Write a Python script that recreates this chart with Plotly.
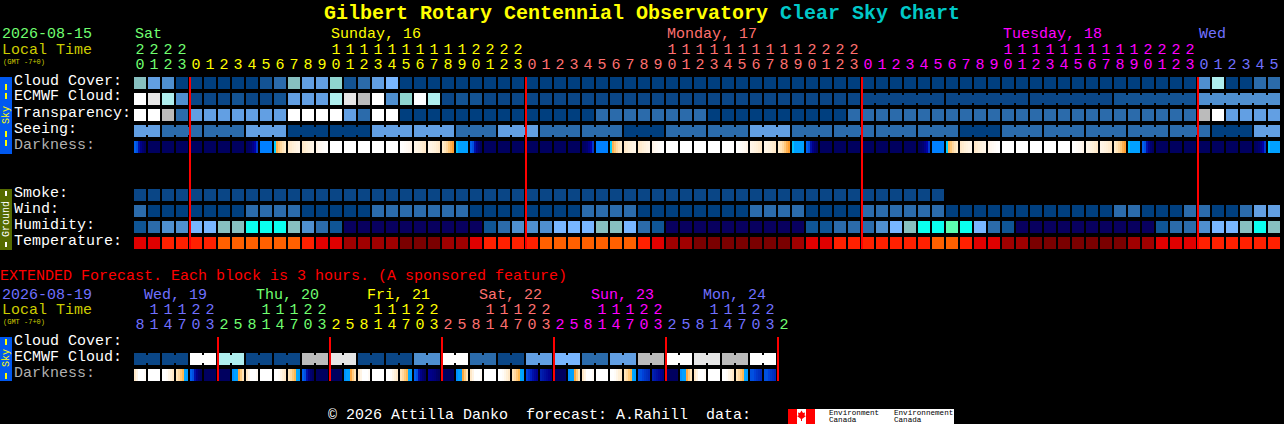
import plotly.graph_objects as go

# ---------- palette for the forecast levels ----------
LEVEL_COLORS = ['#003F7F', '#135393', '#2B6BAB', '#4F8FCF', '#629FE3', '#78B6FF', '#87C0C0', '#AFEEEE',
                '#FFFFFF', '#E6E6E6', '#BBBBBB', '#0A4686', '#0F5595', '#08005F', '#0AFFEF', '#5CFFB0',
                '#E00000', '#FF2000', '#FF6000', '#A00000', '#7A0000', '#8FD5CF']

# ---------- main chart data (one value per hour column) ----------
cloud_cover = [6, 4, 3, 0, 0, 0, 0, 0, 0, 1, 2, 6, 4, 4, 21, 1, 2, 4, 5, 0, 0] + [0] * 55 + [3, 7, 0, 0, 2, 2]
ecmwf_cloud = [8, 9, 7, 3, 11, 11, 11, 1, 11, 11, 1, 4, 4, 4, 7, 9, 10, 8, 3, 21, 8, 7, 11, 1, 1] + [11] * 27 \
    + [11] * 18 + [1] * 6 + [3] * 6
transparency = [8, 8, 10, 2, 4, 4, 4, 4, 4, 4, 4, 8, 8, 8, 8, 4, 2, 8, 8, 0, 0] + [0] * 12 + [2] * 8 + [0] * 10 \
    + [2] * 25 + [10, 8, 4, 4, 4, 4]
seeing_group_sizes = [2] + [3] * 26 + [2]
seeing_group_levels = [4, 2, 2, 4, 0, 0, 4, 4, 2, 4, 2, 2, 0, 2, 2, 4, 2, 2, 2, 2, 0, 2, 2, 2, 2, 2, 0, 4]
ecmwf_group_first_col = 52
ecmwf_group_size = 6
darkness_cells = ['e'] + ['n'] * 7 + ['d', 'B', 's', 'c', 'c', 'l', 'w', 'w', 'w', 'w', 'w', 'm', 'h', 'h', 'r', 'C', 'e'] \
    + ['n'] * 7 + ['d', 'B', 's', 'c', 'c', 'l', 'w', 'w', 'w', 'w', 'w', 'm', 'h', 'h', 'r', 'C', 'e'] \
    + ['n'] * 7 + ['d', 'B', 's', 'c', 'c', 'l', 'w', 'w', 'w', 'w', 'w', 'm', 'h', 'h', 'r', 'C', 'e'] \
    + ['n'] * 7 + ['d', 'C']
smoke = [11] * 58 + [None] * 24
wind = [2, 0, 0, 0, 0, 0, 0, 0, 2, 2, 2, 2, 0, 0, 0, 0, 0, 2, 2, 2, 2, 2, 2, 2] + [0] * 8 + [2] * 4 + [0] * 8 \
    + [2] * 4 + [0] * 4 + [2] * 6 + [0] * 12 + [2, 2, 0, 0, 0, 2, 2, 0, 0, 2, 4, 4]
humidity = [12, 2, 3, 3, 5, 5, 6, 6, 14, 14, 14, 6, 3, 2, 12] + [13] * 10 \
    + [12, 2, 3, 3, 3, 5, 5, 5, 6, 6, 5, 2, 12] + [13] * 10 \
    + [12, 12, 2, 2, 2, 3, 5, 6, 14, 14, 15, 14, 5, 2, 12] + [13] * 10 \
    + [12, 2, 2, 3, 5, 5, 6, 14, 6]
temperature = [16, 16, 17, 17, 17, 17, 18, 18, 18, 18, 18, 18, 17, 16, 16, 19, 19, 19, 19, 20, 20, 20, 19, 19,
               16, 17, 17, 17, 17, 18, 18, 18, 18, 18, 18, 18, 17, 16, 19, 19, 20, 20, 20, 20, 20, 20, 20, 19,
               16, 16, 17, 17, 17, 17, 17, 17, 17, 18, 18, 17, 16, 16, 19, 19, 20, 20, 20, 20, 20, 20, 20, 19,
               19, 16, 16, 16, 17, 17, 17, 17, 17, 17]

hours_main = [20, 21, 22, 23] + list(range(24)) * 3 + [0, 1, 2, 3, 4, 5]
midnight_cols = [4, 28, 52, 76]

# ---------- extended chart data (one value per 3 h column) ----------
ext_ecmwf_groups = [11, 11, 8, 7, 11, 11, 10, 9, 11, 11, 3, 8, 2, 11, 4, 5, 2, 4, 10, 8, 9, 10, 8]
ext_darkness_cells = ['A', 'w', 'k', 'R', 'e', 'n', 'n', 'S', 'A', 'w', 'k', 'R', 'e', 'n', 'n', 'S', 'A', 'w', 'k', 'R',
                      'e', 'N', 'n', 'S', 'A', 'w', 'k', 'R', 'E', 'M', 'n', 'S', 'A', 'w', 'k', 'R', 'G', 'M', 'n', 'S',
                      'A', 'w', 'k', 'R', 'G', 'G']
hours_ext = [8, 11, 14, 17, 20, 23] + [2, 5, 8, 11, 14, 17, 20, 23] * 5 + [2]
ext_midnight_cols = [6, 14, 22, 30, 38, 46]

# ---------- darkness gradients: six 2 px samples across a block ----------
DARK_PATTERNS = {
    'n': ['#00005F'] * 6,
    'd': ['#000060', '#000066', '#000070', '#000088', '#0000A8', '#0038D0'],
    'B': ['#0080FF'] * 6,
    'C': ['#00C0FF', '#00A0FF', '#00A0FF', '#00A0FF', '#00A0FF', '#00A0FF'],
    's': ['#00D0FF', '#FFB050', '#FFC878', '#FFD8A0', '#FFE4B8', '#FFECCC'],
    'c': ['#FFE8C8', '#FFECD0', '#FFF0D8', '#FFF2DE', '#FFF4E4', '#FFF6E8'],
    'l': ['#FFF4E8', '#FFF8F0', '#FFFAF4', '#FFFCF8', '#FFFEFC', '#FFFFFF'],
    'w': ['#FFFFFF'] * 6,
    'm': ['#FFFFFF', '#FFFEFC', '#FFFCF8', '#FFFAF4', '#FFF8F0', '#FFF4E8'],
    'h': ['#FFF6E8', '#FFF4E4', '#FFF2DE', '#FFF0D8', '#FFECD0', '#FFE8C8'],
    'r': ['#FFECCC', '#FFE4B8', '#FFD8A0', '#FFC878', '#FFB050', '#FFA030'],
    'e': ['#0060F0', '#0050E0', '#0010A8', '#000088', '#000070', '#000060'],
    'A': ['#FFE8C8', '#FFF4E4', '#FFFFFF', '#FFFFFF', '#FFFFFF', '#FFFAF4'],
    'k': ['#FFFFFF', '#FFFFFF', '#FFFCF8', '#FFF6E8', '#FFF0D8', '#FFE8C8'],
    'R': ['#FFE4B8', '#FFD8A0', '#FFC878', '#FFB850', '#00A8FF', '#00A0FF'],
    'S': ['#0090FF', '#00A0FF', '#00A0FF', '#FFA840', '#FFCC80', '#FFE4B8'],
    'E': ['#0040E0', '#0030D0', '#0020C0', '#0010A8', '#000898', '#000090'],
    'G': ['#0050E0', '#0050E0', '#0040D8', '#0038C8', '#0030C0', '#0028B8'],
    'M': ['#0020B0', '#0018A8', '#0010A0', '#000898', '#000090', '#000080'],
    'N': ['#000090', '#000088', '#000080', '#000078', '#000068', '#000060'],
}

# ---------- text colours ----------
GREEN, YELLOW, SALMON, MAGENTA, PERI = '#70FF70', '#FFFF00', '#FF7070', '#FF00FF', '#7070FF'
W, H = 1284, 424
COL_PX, ROW_PX = 14, 16
X0_PX, Y0_PX = 140, 83
MONO = 'Liberation Mono'


def col_at(px):
    return (px - X0_PX) / COL_PX


def row_at(py):
    return (py - Y0_PX) / ROW_PX


# ---------- build derived series ----------
seeing = []
seeing_spans = []
for size, level in zip(seeing_group_sizes, seeing_group_levels):
    seeing_spans.append((len(seeing), len(seeing) + size - 1, level))
    seeing += [level] * size

ext_ecmwf = []
ext_spans = []
for g, level in enumerate(ext_ecmwf_groups):
    ext_spans.append((2 * g, 2 * g + 1, level))
    ext_ecmwf += [level] * 2

ecmwf_spans = []
for start in range(ecmwf_group_first_col, 82, ecmwf_group_size):
    ecmwf_spans.append((start, start + ecmwf_group_size - 1, ecmwf_cloud[start]))

n_lv = len(LEVEL_COLORS)
level_scale = []
for i, c in enumerate(LEVEL_COLORS):
    level_scale += [[i / n_lv, c], [(i + 1) / n_lv, c]]

dark_colors = sorted({c for p in DARK_PATTERNS.values() for c in p})
dark_index = {c: i for i, c in enumerate(dark_colors)}
n_dk = len(dark_colors)
dark_scale = []
for i, c in enumerate(dark_colors):
    dark_scale += [[i / n_dk, c], [(i + 1) / n_dk, c]]

fig = go.Figure()


def level_heat(rows, ys, ncols):
    fig.add_trace(go.Heatmap(
        z=rows, x=list(range(ncols)), y=ys, zmin=0, zmax=n_lv,
        colorscale=level_scale, showscale=False, xgap=2, ygap=4, hoverinfo='skip'))


def dark_heat(cells, y):
    xs, zs = [], []
    for c, key in enumerate(cells):
        for k, col in enumerate(DARK_PATTERNS[key]):
            xs.append(c + (2 * k - 5) / COL_PX)
            zs.append(dark_index[col] + 0.5)
        xs.append(c + 7 / COL_PX)
        zs.append(None)
    fig.add_trace(go.Heatmap(
        z=[zs], x=xs, y=[y], zmin=0, zmax=n_dk, colorscale=dark_scale,
        showscale=False, ygap=4, hoverinfo='skip'))


def levels(seq):
    return [None if v is None else v + 0.5 for v in seq]


blank = [None] * 82
level_heat([levels(cloud_cover), levels(ecmwf_cloud), levels(transparency), levels(seeing), blank, blank, blank,
            levels(smoke), levels(wind), levels(humidity), levels(temperature)],
           list(range(11)), 82)
dark_heat(darkness_cells, 4)
level_heat([levels(ext_ecmwf)], [row_at(359)], 46)
dark_heat(ext_darkness_cells, row_at(375))


def bridges(spans, y):
    by_level = {}
    for a, b, level in spans:
        if b > a:
            xs, ys = by_level.setdefault(level, ([], []))
            xs += [a, b, None]
            ys += [y, y, None]
    for level, (xs, ys) in by_level.items():
        fig.add_trace(go.Scatter(x=xs, y=ys, mode='lines', line=dict(color=LEVEL_COLORS[level], width=8),
                                 hoverinfo='skip', showlegend=False))


bridges(seeing_spans, 3)
bridges(ecmwf_spans, 1)
bridges(ext_spans, row_at(359))


def red_lines(cols, y0, y1):
    xs, ys = [], []
    for c in cols:
        xs += [c - 3 / 7, c - 3 / 7, None]
        ys += [y0, y1, None]
    fig.add_trace(go.Scatter(x=xs, y=ys, mode='lines', line=dict(color='#FF0000', width=2),
                             hoverinfo='skip', showlegend=False))


red_lines(midnight_cols, row_at(77), row_at(249))
red_lines(ext_midnight_cols, row_at(337), row_at(381))


def hour_text(hours, colors, py_tens, py_units):
    cols = list(range(len(hours)))
    fig.add_trace(go.Scatter(
        x=[c for c in cols if hours[c] >= 10], y=[row_at(py_tens)] * sum(h >= 10 for h in hours),
        text=[str(h // 10) for h in hours if h >= 10], mode='text',
        textfont=dict(family=MONO, size=15, color=[colors[c] for c in cols if hours[c] >= 10]),
        hoverinfo='skip', showlegend=False))
    fig.add_trace(go.Scatter(
        x=cols, y=[row_at(py_units)] * len(cols), text=[str(h % 10) for h in hours], mode='text',
        textfont=dict(family=MONO, size=15, color=colors), hoverinfo='skip', showlegend=False))


hour_text(hours_main, [GREEN] * 4 + [YELLOW] * 24 + [SALMON] * 24 + [MAGENTA] * 24 + [PERI] * 6, 50, 65)
hour_text(hours_ext, [PERI] * 6 + [GREEN] * 8 + [YELLOW] * 8 + [SALMON] * 8 + [MAGENTA] * 8 + [PERI] * 8 + [GREEN],
          310, 325)

annotations = []


def label(txt, x, y, color='#FFFFFF', size=15, bold=False, angle=0, anchor='left', family=MONO):
    annotations.append(dict(
        text=f'<b>{txt}</b>' if bold else txt, x=x / W, y=1 - y / H, xref='paper', yref='paper',
        xanchor=anchor, yanchor='middle', showarrow=False, borderpad=0, borderwidth=0,
        textangle=angle, font=dict(family=family, size=size, color=color)))


# title
label('Gilbert Rotary Centennial Observatory', 324, 13, YELLOW, 20, True)
label('Clear Sky Chart', 780, 13, '#00C8C8', 20, True)

# main header
label('2026-08-15', 2, 35, GREEN)
label('Local Time', 2, 50, '#CCCC00')
label('(GMT -7+0)', 3, 62, '#CCCC00', 7)
for txt, x, c in [('Sat', 135, GREEN), ('Sunday, 16', 331, YELLOW), ('Monday, 17', 667, SALMON),
                  ('Tuesday, 18', 1003, MAGENTA), ('Wed', 1199, PERI)]:
    label(txt, x, 35, c)

# row names
for txt, y, c in [('Cloud Cover:', 81, '#FFFFFF'), ('ECMWF Cloud:', 97, '#FFFFFF'), ('Transparency:', 113, '#FFFFFF'),
                  ('Seeing:', 129, '#FFFFFF'), ('Darkness:', 145, '#B0B0B0'), ('Smoke:', 193, '#FFFFFF'),
                  ('Wind:', 209, '#FFFFFF'), ('Humidity:', 225, '#FFFFFF'), ('Temperature:', 241, '#FFFFFF'),
                  ('Cloud Cover:', 341, '#FFFFFF'), ('ECMWF Cloud:', 357, '#FFFFFF'), ('Darkness:', 373, '#B0B0B0')]:
    label(txt, 14, y, c)

# extended header
label('EXTENDED Forecast. Each block is 3 hours. (A sponsored feature)', 0, 276, '#FF0000')
label('2026-08-19', 2, 295, PERI)
label('Local Time', 2, 310, '#CCCC00')
label('(GMT -7+0)', 3, 322, '#CCCC00', 7)
for txt, x, c in [('Wed, 19', 144, PERI), ('Thu, 20', 256, GREEN), ('Fri, 21', 367, YELLOW),
                  ('Sat, 22', 479, SALMON), ('Sun, 23', 591, MAGENTA), ('Mon, 24', 703, PERI)]:
    label(txt, x, 295, c)

# footer
label('\u00a9 2026 Attilla Danko  forecast: A.Rahill  data:', 328, 415)

# side bars
label('Sky', 6, 115, YELLOW, 10, angle=-90, anchor='center')
label('Ground', 6, 219, '#FFFFFF', 10, angle=-90, anchor='center')
label('Sky', 6, 358, YELLOW, 10, angle=-90, anchor='center')

# logo text
label('Environment', 829, 413, '#000000', 7.6)
label('Canada', 829, 420, '#000000', 7.6)
label('Environnement', 894, 413, '#000000', 7.6)
label('Canada', 894, 420, '#000000', 7.6)


def rect(x0, y0, x1, y1, color):
    return dict(type='rect', xref='paper', yref='paper', x0=x0 / W, x1=x1 / W, y0=1 - y0 / H, y1=1 - y1 / H,
                fillcolor=color, line_width=0, layer='below')


def poly(points, color):
    path = 'M ' + ' L '.join(f'{x / W:.5f},{1 - y / H:.5f}' for x, y in points) + ' Z'
    return dict(type='path', xref='paper', yref='paper', path=path, fillcolor=color, line_width=0, layer='above')


shapes = [
    rect(0, 77, 12, 154, '#0058F0'),
    rect(0, 189, 12, 250, '#556B00'),
    rect(0, 337, 12, 381, '#0058F0'),
    rect(788, 409, 954, 424, '#FFFFFF'),
    rect(788, 409, 797, 424, '#FF0000'),
    rect(806, 409, 815, 424, '#FF0000'),
    poly([(801.5, 410.5), (803, 413), (805, 412.5), (804.5, 415.5), (806, 416), (802, 419), (802, 421), (801, 421),
          (801, 419), (797, 416), (798.5, 415.5), (798, 412.5), (800, 413)], '#FF0000'),
]
for y0, y1, c in [(84, 90, YELLOW), (93, 99, YELLOW), (131, 137, YELLOW), (140, 146, YELLOW),
                  (191, 196, '#FFFFFF'), (242, 247, '#FFFFFF'), (339, 345, YELLOW), (373, 379, YELLOW)]:
    shapes.append(rect(5, y0, 7, y1, c))
    shapes[-1]['layer'] = 'above'

fig.update_layout(
    width=W, height=H, margin=dict(l=0, r=0, t=0, b=0, pad=0), autosize=False,
    paper_bgcolor='#000000', plot_bgcolor='#000000', showlegend=False,
    xaxis=dict(range=[col_at(0), col_at(W)], visible=False, fixedrange=True, type='linear'),
    yaxis=dict(range=[row_at(H), row_at(0)], visible=False, fixedrange=True, type='linear'),
    annotations=annotations, shapes=shapes,
)

fig.write_html('out.html', config={'displayModeBar': False},
               post_script="document.body.style.margin='0';document.body.style.background='#000';document.body.style.overflow='hidden';")
